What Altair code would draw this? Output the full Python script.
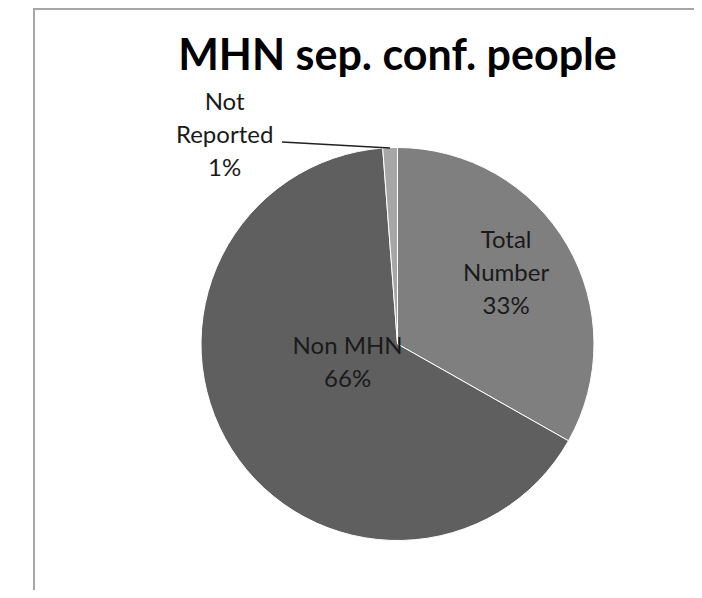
import altair as alt
import pandas as pd

# ---- data ----
categories = ["Total Number", "Non MHN", "Not Reported"]
values = [33.2, 65.6, 1.2]
label_names = ["Total\nNumber", "Non MHN", "Not\nReported"]
pct_labels = ["33%", "66%", "1%"]
slice_order = [0, 1, 2]
colors = ["#7f7f7f", "#5f5f5f", "#a6a6a6"]
title_text = "MHN sep. conf. people"

total = sum(values)
df = pd.DataFrame({
    "category": categories,
    "value": values,
    "label": [f"{n}\n{p}" for n, p in zip(label_names, pct_labels)],
    "order": slice_order,
})

W, H = 686, 582
CX, CY = 389.5, 336
R = 196.5
FONT = "Lato"

base = alt.Chart(df).transform_stack(
    stack="value", groupby=[], as_=["v0", "v1"],
    sort=[alt.SortField("order", "ascending")]
).transform_calculate(mid="(datum.v0 + datum.v1) / 2")

theta_scale = alt.Scale(domain=[0, total])

arcs = base.mark_arc(outerRadius=R, stroke="white", strokeWidth=1).encode(
    theta=alt.Theta("v0:Q", scale=theta_scale, stack=None),
    theta2="v1:Q",
    color=alt.Color("category:N", scale=alt.Scale(domain=categories, range=colors), legend=None),
    x=alt.value(CX), y=alt.value(CY),
)

def label_layer(cat, radius, dx, dy):
    return base.transform_filter(alt.datum.category == cat).mark_text(
        font=FONT, fontSize=24, lineHeight=33, lineBreak="\n",
        align="center", baseline="middle", color="#1a1a1a",
        radius=radius, dx=dx, dy=dy,
    ).encode(
        theta=alt.Theta("mid:Q", scale=theta_scale, stack=None),
        text="label:N",
        x=alt.value(CX), y=alt.value(CY),
    )

lab_total = label_layer("Total Number", 128, -2, -39)
lab_non = label_layer("Non MHN", 52, -6, -25)
lab_nr = label_layer("Not Reported", 209, -165, -32)

one = pd.DataFrame({"t": [title_text]})

leader = alt.Chart(one).mark_rule(color="#222222", strokeWidth=1.5).encode(
    x=alt.value(274), y=alt.value(134), x2=alt.value(382), y2=alt.value(140)
)

title = alt.Chart(one).mark_text(
    font=FONT, fontSize=43, fontWeight="bold", color="#000000",
    align="center", baseline="alphabetic",
).encode(text="t:N", x=alt.value(CX), y=alt.value(62))

border_top = alt.Chart(one).mark_rule(color="#a6a6a6", strokeWidth=2).encode(
    x=alt.value(26), x2=alt.value(W), y=alt.value(1)
)
border_left = alt.Chart(one).mark_rule(color="#a6a6a6", strokeWidth=2).encode(
    x=alt.value(26), y=alt.value(0), y2=alt.value(H)
)

chart = alt.layer(
    border_top, border_left, arcs, lab_total, lab_non, lab_nr, leader, title
).properties(
    width=W, height=H, padding=0, autosize=alt.AutoSizeParams(type="none"),
    background="white",
).configure_view(stroke=None)

chart.save("out.html", embed_options={"renderer": "svg", "actions": False})
